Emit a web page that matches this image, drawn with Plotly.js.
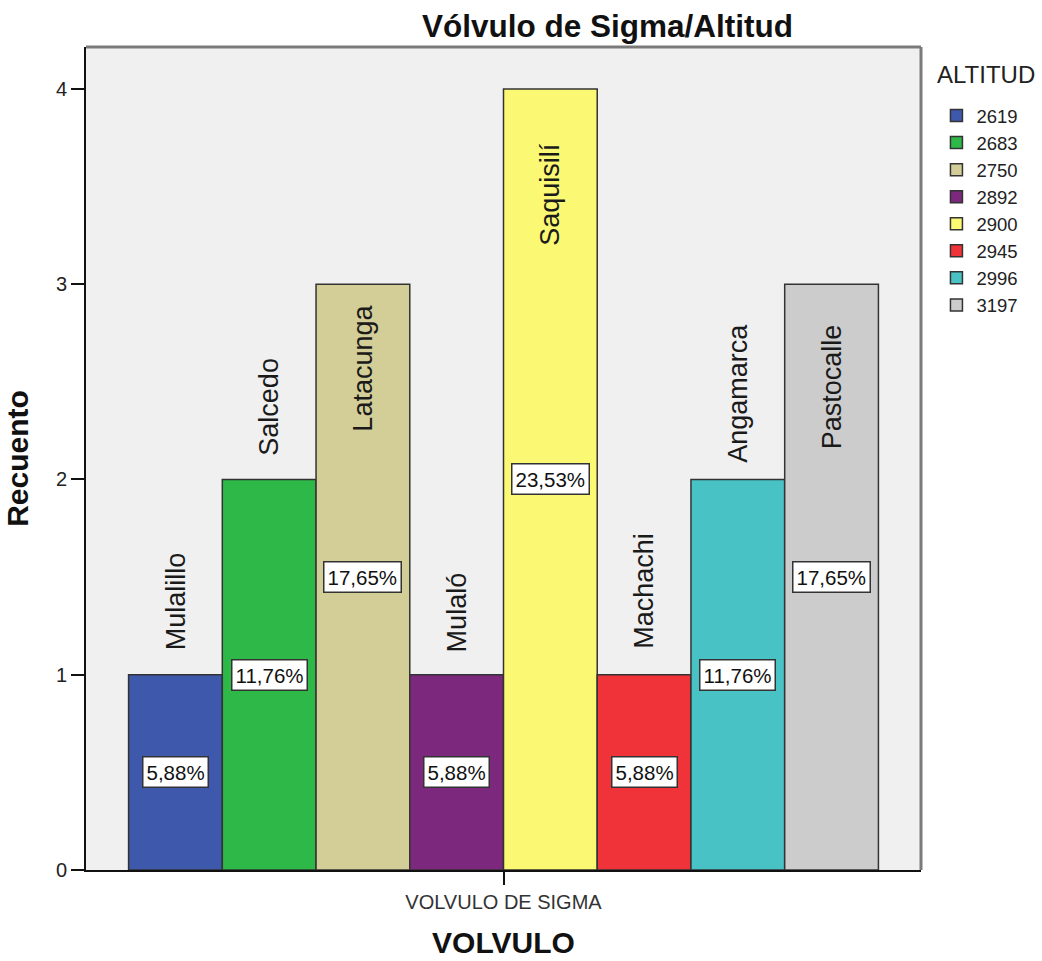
<!DOCTYPE html>
<html>
<head>
<meta charset="utf-8">
<script src="https://cdn.plot.ly/plotly-3.0.1.min.js"></script>
<style>html,body{margin:0;padding:0;background:#fff}#chart{width:1042px;height:961px}</style>
</head>
<body>
<div id="chart"></div>
<script>
// Data
var category = "VOLVULO DE SIGMA";
var altitudes = ["2619", "2683", "2750", "2892", "2900", "2945", "2996", "3197"];
var places = ["Mulalillo", "Salcedo", "Latacunga", "Mulaló", "Saquisilí", "Machachi", "Angamarca", "Pastocalle"];
var counts = [1, 2, 3, 1, 4, 1, 2, 3];
var colors = ["#3E58AC", "#2EB848", "#D3CE97", "#7C287D", "#FBF873", "#EF3338", "#48C2C5", "#CCCCCC"];

// Styling / layout tweaks (label pixel offsets from the bar top)
var labelInside = [false, false, true, false, true, false, false, true];
var labelShift = [23, 22, -18, 20, -52, 24, 15, -38];

var FONT = "Liberation Sans, Arial, Helvetica, sans-serif";
var bargap = 0.102;
var total = counts.reduce(function(a, b){ return a + b; }, 0);
var n = counts.length;
var groupW = 1 - bargap;
var bw = groupW / n;

var traces = altitudes.map(function(alt, i){
  return {
    type: "bar",
    name: alt,
    x: [category],
    y: [counts[i]],
    marker: {color: colors[i], line: {color: "#333333", width: 1.5}},
    hoverinfo: "none"
  };
});

var annotations = [];
counts.forEach(function(v, i){
  var xc = -groupW / 2 + (i + 0.5) * bw;
  var pct = (v / total * 100).toFixed(2).replace(".", ",") + "%";
  annotations.push({
    x: xc, y: v / 2, xref: "x", yref: "y", text: pct, showarrow: false,
    font: {family: FONT, size: 20.5, color: "#111"},
    bgcolor: "#ffffff", bordercolor: "#333333", borderwidth: 1.5, borderpad: 3,
    xanchor: "center", yanchor: "middle"
  });
  annotations.push({
    x: xc, y: v, xref: "x", yref: "y", text: places[i], showarrow: false,
    textangle: -90,
    font: {family: FONT, size: 27, color: "#1a1a1a"},
    xanchor: "center", yanchor: labelInside[i] ? "top" : "bottom",
    yshift: labelShift[i]
  });
});

annotations.push({
  xref: "paper", yref: "paper", x: 1.0168, y: (870 - 75) / 823, xanchor: "left", yanchor: "middle",
  text: "ALTITUD", showarrow: false, font: {family: FONT, size: 24, color: "#222"}
});

var layout = {
  width: 1042, height: 961,
  paper_bgcolor: "#ffffff", plot_bgcolor: "#F0F0F0",
  margin: {l: 86, r: 121, t: 47, b: 91, autoexpand: false},
  barmode: "group", bargap: bargap, bargroupgap: 0,
  font: {family: FONT, color: "#222"},
  title: {text: "<b>Vólvulo de Sigma/Altitud</b>", x: 0.583, xanchor: "center", y: 0.973, yanchor: "middle",
          font: {family: FONT, size: 31.5, color: "#111"}},
  xaxis: {
    type: "category", range: [-0.5, 0.5], fixedrange: true,
    showline: true, linecolor: "#111", linewidth: 2,
    ticks: "outside", ticklen: 13, tickwidth: 2, tickcolor: "#111",
    tickfont: {family: FONT, size: 20, color: "#333"},
    showgrid: false, zeroline: false,
    title: {text: "<b>VOLVULO</b>", font: {family: FONT, size: 30, color: "#111"}, standoff: 20}
  },
  yaxis: {
    range: [0, 4.215], fixedrange: true,
    tickvals: [0, 1, 2, 3, 4],
    showline: true, linecolor: "#111", linewidth: 2,
    ticks: "outside", ticklen: 13, tickwidth: 2, tickcolor: "#111",
    tickfont: {family: FONT, size: 20, color: "#222"},
    showgrid: false, zeroline: false,
    title: {text: "<b>Recuento</b>", font: {family: FONT, size: 30, color: "#111"}, standoff: 18}
  },
  showlegend: true,
  legend: {
    x: 1.0185, xanchor: "left", y: (870 - 97) / 823, yanchor: "top",
    font: {family: FONT, size: 18.5, color: "#222"},
    bgcolor: "rgba(0,0,0,0)", borderwidth: 0, tracegroupgap: 0, itemwidth: 30
  },
  shapes: [
    {type: "line", xref: "paper", yref: "paper", x0: 0, x1: 1, y0: 1, y1: 1, line: {color: "#7a7a7a", width: 3}},
    {type: "line", xref: "paper", yref: "paper", x0: 1, x1: 1, y0: 0, y1: 1, line: {color: "#7a7a7a", width: 3}}
  ],
  annotations: annotations
};

Plotly.newPlot("chart", traces, layout, {displayModeBar: false, staticPlot: true});
</script>
</body>
</html>
